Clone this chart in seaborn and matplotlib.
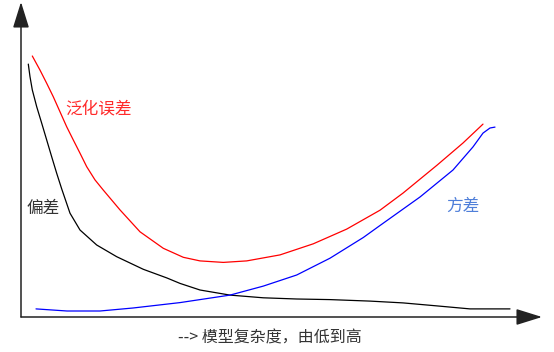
"""
Bias-variance tradeoff sketch: bias, variance and generalization error vs model complexity.
"""
import matplotlib
matplotlib.use('Agg')
import matplotlib.pyplot as plt
import seaborn as sns

# model complexity (x) and error level (y)
err_x = [2.46, 4.0, 5.34, 6.66, 8.0, 9.34, 10.66, 12.0, 13.34, 15.0, 16.66, 20.0, 24.0, 28.66,
         32.66, 36.0, 40.66, 45.34, 52.0, 58.66, 65.34, 72.0, 76.6, 83.4, 88.6, 92.6]
err_y = [87.0, 82.3, 77.9, 73.4, 68.4, 63.4, 59.0, 54.6, 50.1, 45.7, 42.3, 35.7, 28.4, 22.9,
         19.9, 18.7, 18.2, 18.7, 20.7, 24.4, 29.3, 35.6, 41.3, 50.6, 58.0, 64.3]

bias_x = [1.66, 2.0, 2.46, 3.34, 4.34, 5.34, 6.34, 7.34, 8.34, 10.0, 12.0, 15.34, 19.34, 24.66,
          29.4, 32.0, 36.0, 42.0, 48.66, 55.34, 62.0, 70.0, 76.6, 83.4, 90.0, 98.0]
bias_y = [84.3, 80.1, 75.7, 70.1, 64.6, 59.0, 53.4, 47.9, 42.7, 34.6, 29.0, 24.0, 20.1, 15.9,
          13.0, 11.2, 9.0, 7.3, 6.4, 6.0, 5.8, 5.3, 4.7, 3.7, 2.7, 2.7]

var_x = [3.2, 9.4, 16.0, 22.6, 32.0, 42.0, 48.66, 55.34, 62.0, 68.66, 72.0, 80.0, 86.6,
         90.6, 92.6, 94.0, 95.0]
var_y = [2.7, 2.0, 2.0, 3.0, 4.8, 7.3, 10.3, 14.0, 19.6, 26.5, 30.5, 40.0, 49.0,
         56.7, 61.3, 63.0, 63.3]

labels = ['泛化误差', '偏差', '方差']
label_pos = [(15.8, 69.3), (4.6, 36.3), (88.6, 37.0)]
label_colors = ['#ff2a2a', '#333333', '#4f7fd9']
xlabel = '--> 模型复杂度，由低到高'


def main():
    sns.set_style('white')
    plt.rcParams['font.family'] = ['Noto Sans CJK SC', 'DejaVu Sans']

    fig = plt.figure(figsize=(5.54, 3.52), dpi=100)
    ax = fig.add_axes([21 / 554, 35 / 352, 521 / 554, 315 / 352])
    ax.set_xlim(0.2, 104.4)
    ax.set_ylim(0, 105)

    sns.lineplot(x=err_x, y=err_y, sort=False, color='#ff0000', linewidth=0.9, ax=ax)
    sns.lineplot(x=bias_x, y=bias_y, sort=False, color='#000000', linewidth=0.9, ax=ax)
    sns.lineplot(x=var_x, y=var_y, sort=False, color='#0000ff', linewidth=0.9, ax=ax)

    for text, (tx, ty), c in zip(labels, label_pos, label_colors):
        ax.text(tx, ty, text, color=c, fontsize=12, ha='center', va='center')

    # axes with arrow heads
    for v in ax.spines.values():
        v.set_visible(False)
    ax.set_xticks([]); ax.set_yticks([])
    arrow = dict(arrowstyle='-|>,head_length=16,head_width=5', color='#222222',
                 linewidth=1.1, mutation_scale=1, shrinkA=0, shrinkB=0)
    ax.annotate('', xy=(0, 1), xytext=(0, 0), xycoords='axes fraction', arrowprops=arrow)
    ax.annotate('', xy=(1, 0), xytext=(0, 0), xycoords='axes fraction', arrowprops=arrow)

    ax.text(50, -7, xlabel, color='#333333', fontsize=11.5, ha='center', va='center', clip_on=False)

    fig.savefig('out.png', dpi=100)
    plt.close(fig)


if __name__ == '__main__':
    main()
